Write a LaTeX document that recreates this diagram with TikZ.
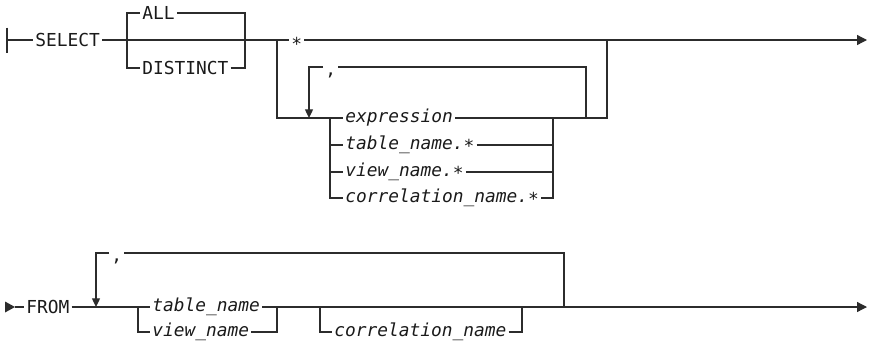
\documentclass[tikz,border=0pt]{standalone}
\usepackage{fontspec}
\setmonofont{DejaVu Sans Mono}
\usepackage{tikz}
\usetikzlibrary{arrows.meta}
\definecolor{rail}{HTML}{2C2C2C}
\definecolor{ink}{HTML}{1A1A1A}
\newcommand{\lowast}[1]{\raisebox{-#1em}{*}}

\begin{document}
\begin{tikzpicture}[
				x=0.75pt, y=-0.75pt,
				line/.style={draw=rail, line width=0.95pt},
				kw/.style={font={\ttfamily\fontsize{13.4pt}{15pt}\selectfont}, text=ink, inner xsep=1.5pt, inner ysep=0pt, text height=9.7pt, text depth=0pt, anchor=west},
				var/.style={kw, font={\ttfamily\itshape\fontsize{13.4pt}{15pt}\selectfont}, text height=7pt},
				sep/.style={kw, text height=0pt, text depth=0pt},
				looparrow/.style={line, -{Triangle[length=6.5pt, width=6pt]}},
				endarrow/.style={line, -{Triangle[length=7.5pt, width=7.5pt]}}
				]
				\useasboundingbox (0,0) rectangle (870,343);
				% Nodes
				\node (select) [kw] at (33,40) {SELECT};
				\node (all) [kw] at (140,13) {ALL};
				\node (distinct) [kw] at (140,68) {DISTINCT};
				\node (star) [kw] at (289,40) {\lowast{0.25}};
				\node (comma1) [sep] at (323,67) {\raisebox{-0.45em}{,}};
				\node (expr) [var] at (343,118) {expression};
				\node (tstar) [var] at (343,145) {table\_name.\lowast{0.15}};
				\node (vstar) [var] at (343,172) {view\_name.\lowast{0.15}};
				\node (cstar) [var] at (343,198) {correlation\_name.\lowast{0.15}};
				
				\node (from) [kw] at (24,307) {FROM};
				\node (comma2) [sep] at (109,253) {\raisebox{-0.45em}{,}};
				\node (tab) [var] at (150,307) {table\_name};
				\node (view) [var] at (150,332) {view\_name};
				\node (corr) [var] at (332,332) {correlation\_name};
				
				% Junctions
				\coordinate (s0) at (7,40);
				\coordinate (a1) at (127,40);
				\coordinate (a2) at (245,40);
				\coordinate (b1) at (277,40);
				\coordinate (b2) at (607,40);
				\coordinate (e1) at (867,40);
				\coordinate (l1) at (309,118);
				\coordinate (c1) at (330,118);
				\coordinate (c2) at (553,118);
				\coordinate (l2) at (586,118);
				
				\coordinate (t0) at (15,307);
				\coordinate (g1) at (96,307);
				\coordinate (d1) at (138,307);
				\coordinate (d2) at (277,307);
				\coordinate (f1) at (320,307);
				\coordinate (f2) at (522,307);
				\coordinate (g2) at (564,307);
				\coordinate (e2) at (867,307);
				
				% First line
				\draw [line] (s0) ++(0,-12.5) -- ++(0,25);
				\draw [line] (s0) -- (select.west);
				\draw [line] (select.east) -- (star.west);
				\draw [line] (a1) |- (all.west);
				\draw [line] (all.east) -| (a2);
				\draw [line] (a1) |- (distinct.west);
				\draw [line] (distinct.east) -| (a2);
				\draw [endarrow] (star.east) -- (e1);
				\draw [line] (b1) |- (expr.west);
				\draw [line] (expr.east) -- (l2) -| (b2);
				\draw [line] (c1) |- (tstar.west);
				\draw [line] (c1) |- (vstar.west);
				\draw [line] (c1) |- (cstar.west);
				\draw [line] (tstar.east) -| (c2);
				\draw [line] (vstar.east) -| (c2);
				\draw [line] (cstar.east) -| (c2);
				\draw [line] (l2) |- (comma1.east);
				\draw [looparrow] (comma1.west) -| (l1);
				
				% Second line
				\fill [rail] (t0) -- ++(-10,-5.5) -- ++(0,11) -- cycle;
				\draw [line] (t0) -- (from.west);
				\draw [line] (from.east) -- (tab.west);
				\draw [line] (tab.east) -- (d2);
				\draw [line] (d1) |- (view.west);
				\draw [line] (view.east) -| (d2);
				\draw [line] (d2) -- (g2);
				\draw [line] (f1) |- (corr.west);
				\draw [line] (corr.east) -| (f2);
				\draw [line] (g2) |- (comma2.east);
				\draw [looparrow] (comma2.west) -| (g1);
				\draw [endarrow] (g2) -- (e2);
\end{tikzpicture}
\end{document}
